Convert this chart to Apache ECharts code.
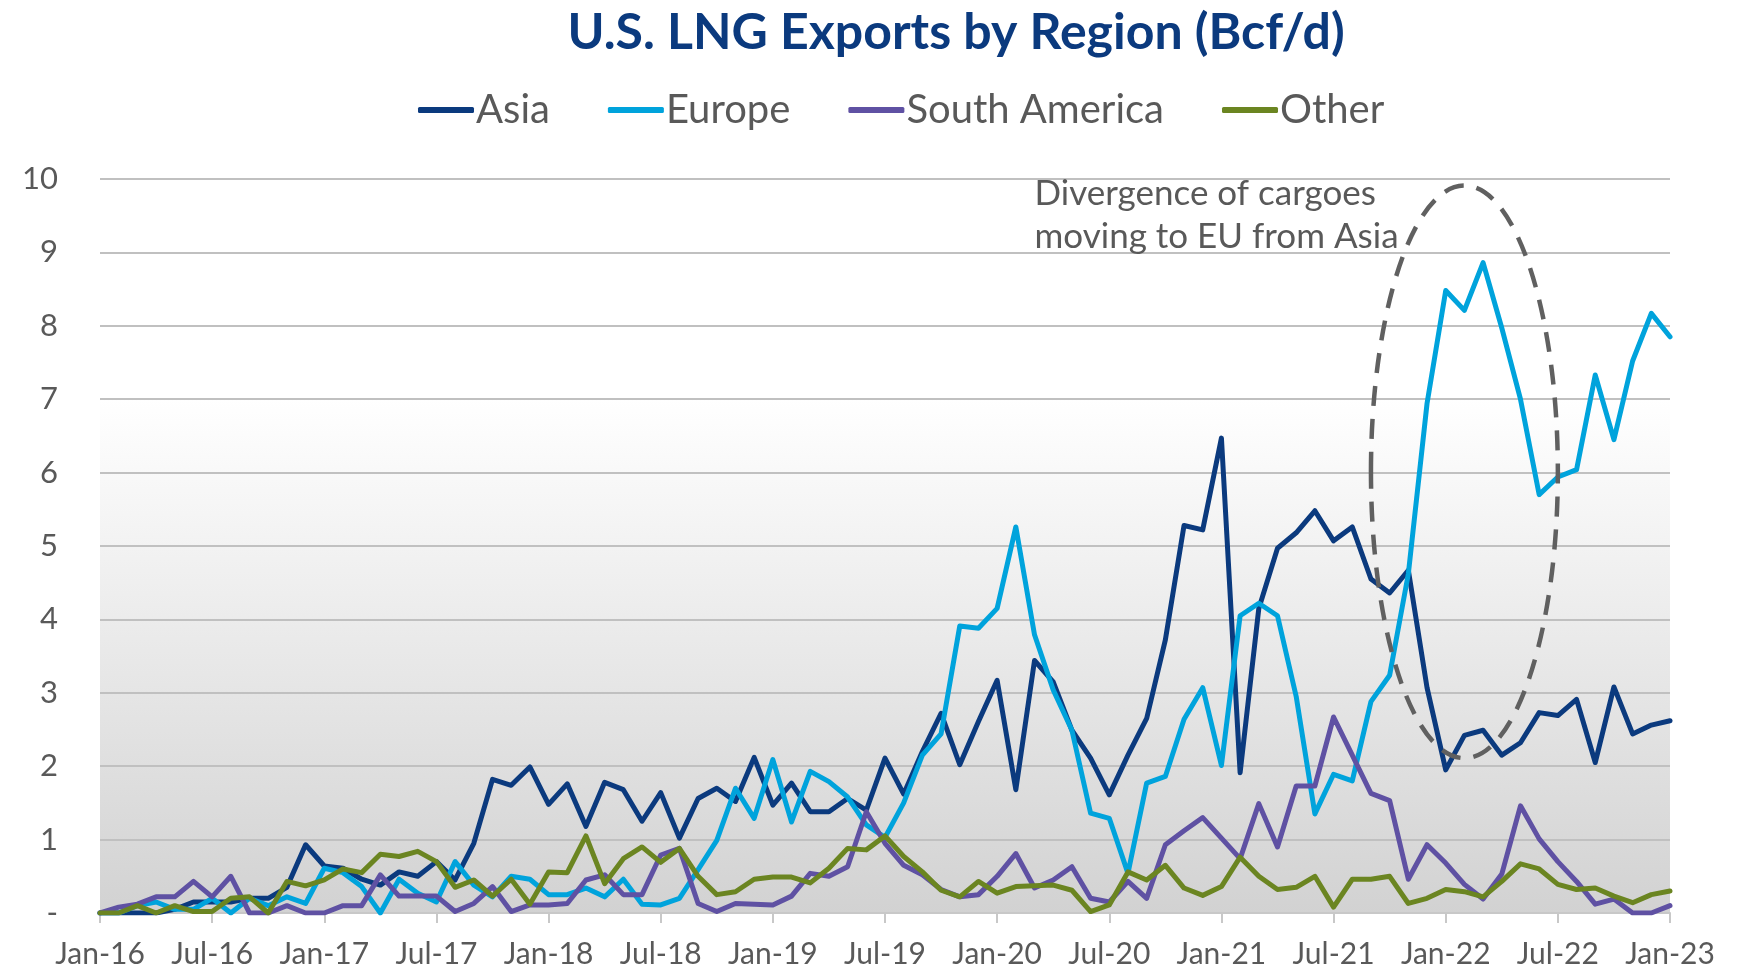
<!DOCTYPE html>
<html>
<head>
<meta charset="utf-8">
<script src="https://cdn.jsdelivr.net/npm/echarts@6/dist/echarts.min.js"></script>
<style>
html,body{margin:0;padding:0;background:#fff;}
#chart{width:1745px;height:970px;}
</style>
</head>
<body>
<div id="chart"></div>
<script>
// Month categories Jan-16 .. Jan-23
const monthNames = ['Jan','Feb','Mar','Apr','May','Jun','Jul','Aug','Sep','Oct','Nov','Dec'];
const categories = [];
for (let y = 16; y <= 23; y++) {
  for (let m = 0; m < 12; m++) {
    if (y === 23 && m > 0) break;
    categories.push(monthNames[m] + '-' + y);
  }
}

const asia = [0,0,0,0,0.05,0.15,0.15,0.15,0.2,0.2,0.35,0.93,0.64,0.61,0.46,0.38,0.56,0.5,0.7,0.45,
  0.95,1.82,1.74,1.99,1.48,1.76,1.18,1.78,1.68,1.25,1.64,1.02,1.56,1.7,1.52,2.12,1.47,1.77,1.38,1.38,
  1.56,1.4,2.11,1.62,2.2,2.72,2.02,2.61,3.17,1.68,3.44,3.15,2.49,2.11,1.61,2.15,2.65,3.72,5.28,5.22,
  6.47,1.91,4.15,4.97,5.18,5.48,5.07,5.26,4.55,4.36,4.67,3.07,1.95,2.42,2.49,2.15,2.32,2.73,2.69,2.91,
  2.05,3.08,2.44,2.56,2.62];

const europe = [0,0,0.1,0.15,0.05,0.05,0.2,0,0.2,0.1,0.22,0.13,0.61,0.55,0.36,0,0.46,0.27,0.15,0.7,
  0.38,0.22,0.5,0.46,0.25,0.25,0.34,0.22,0.46,0.12,0.11,0.2,0.59,0.99,1.7,1.29,2.09,1.24,1.93,1.79,
  1.58,1.2,1.03,1.5,2.15,2.44,3.91,3.88,4.15,5.26,3.79,3.04,2.49,1.36,1.29,0.54,1.77,1.86,2.64,3.07,
  2.01,4.05,4.22,4.05,2.95,1.35,1.89,1.8,2.88,3.24,4.62,6.94,8.48,8.21,8.86,7.97,7.0,5.7,5.94,6.04,
  7.33,6.45,7.52,8.17,7.85];

const southAmerica = [0,0.08,0.12,0.22,0.22,0.43,0.22,0.5,0,0,0.1,0,0,0.1,0.1,0.52,0.23,0.23,0.23,0.02,
  0.13,0.36,0.02,0.11,0.11,0.13,0.45,0.52,0.25,0.25,0.79,0.88,0.13,0.02,0.13,0.12,0.11,0.23,0.54,0.5,
  0.63,1.38,0.95,0.65,0.52,0.32,0.22,0.25,0.5,0.81,0.34,0.45,0.63,0.2,0.15,0.43,0.2,0.93,1.12,1.3,
  1.02,0.74,1.49,0.9,1.73,1.73,2.67,2.15,1.63,1.53,0.46,0.93,0.68,0.39,0.19,0.53,1.46,1.01,0.7,0.43,
  0.12,0.19,0,0,0.1];

const other = [0,0,0.1,0,0.1,0.02,0.02,0.2,0.22,0,0.43,0.37,0.45,0.6,0.55,0.8,0.77,0.84,0.7,0.35,
  0.45,0.23,0.46,0.12,0.56,0.55,1.05,0.4,0.74,0.9,0.69,0.88,0.5,0.25,0.29,0.46,0.49,0.49,0.41,0.61,
  0.88,0.86,1.05,0.77,0.56,0.31,0.22,0.43,0.27,0.36,0.37,0.38,0.31,0.02,0.11,0.56,0.45,0.65,0.34,0.24,
  0.36,0.76,0.5,0.32,0.35,0.5,0.08,0.46,0.46,0.5,0.13,0.2,0.32,0.29,0.22,0.43,0.67,0.6,0.39,0.32,
  0.34,0.23,0.14,0.25,0.3];

const yTicks = [0,1,2,3,4,5,6,7,8,9,10];
const annotationText = 'Divergence of cargoes\nmoving to EU from Asia';

const FONT = 'Lato';
const GREY = '#595959';
const colors = { asia:'#0b3a7e', europe:'#00a3dc', sa:'#5f51a3', other:'#6b8521' };

const chart = echarts.init(document.getElementById('chart'), null, {renderer:'canvas'});

function lineSeries(name, data, color) {
  return {
    name, type:'line', data, symbol:'none', smooth:false,
    lineStyle:{ color, width:5, join:'round', cap:'round' },
    itemStyle:{ color },
    z: 3
  };
}

const option = {
  animation:false,
  backgroundColor:'#ffffff',
  textStyle:{ fontFamily: FONT },
  title:{
    text:'U.S. LNG Exports by Region (Bcf/d)',
    left: 951, top: 3, textAlign:'center',
    textStyle:{ fontFamily: FONT, fontWeight:'bold', fontSize:50, color:'#0b3a7e' }
  },
  legend:{
    top: 85, left: 413,
    itemWidth:56, itemHeight:6, itemGap:58, icon:'roundRect',
    textStyle:{ fontFamily: FONT, fontSize:40, color: GREY, padding:[0,0,0,-3] },
    data:['Asia','Europe','South America','Other']
  },
  grid:{
    left:100, right:75, top:179, bottom:57, show:true, borderWidth:0,
    backgroundColor: new echarts.graphic.LinearGradient(0,0,0,1,[
      {offset:0, color:'#ffffff'},
      {offset:0.3, color:'#ffffff'},
      {offset:1, color:'#d2d2d2'}
    ])
  },
  xAxis:{
    type:'category', data:categories, boundaryGap:false,
    axisLine:{ show:true, lineStyle:{ color:'#c8c8c8', width:2 } },
    axisTick:{ show:true, interval:5, length:10, lineStyle:{ color:'#c8c8c8', width:2 } },
    axisLabel:{ interval:5, color:GREY, fontSize:30, fontFamily:FONT, margin:26 },
    splitLine:{ show:false }
  },
  yAxis:{
    type:'value', min:yTicks[0], max:yTicks[yTicks.length-1], interval:1,
    axisLine:{ show:false }, axisTick:{ show:false },
    axisLabel:{ color:GREY, fontSize:31, fontFamily:FONT, margin:42,
      formatter: v => v === 0 ? '-' : String(v) },
    splitLine:{ lineStyle:{ color:'#c0c0c0', width:2 } }
  },
  series:[
    lineSeries('Asia', asia, colors.asia),
    lineSeries('Europe', europe, colors.europe),
    lineSeries('South America', southAmerica, colors.sa),
    lineSeries('Other', other, colors.other)
  ]
};
chart.setOption(option);

// annotation placed via data coordinates
function px(i, v){ return chart.convertToPixel({gridIndex:0}, [i, v]); }
const c = px(73.35, 6.01);
const rxPt = px(73.35 + 4.2, 6.01);
const ryPt = px(73.35, 6.01 + 3.9);
const textPt = px(50.0, 9.5);
chart.setOption({
  graphic:[
    {
      type:'ellipse', x:c[0], y:c[1], z:10,
      shape:{ cx:0, cy:0, rx: rxPt[0]-c[0], ry: c[1]-ryPt[1] },
      style:{ fill:'none', stroke:'#606060', lineWidth:4.5, lineDash:[20,13] }
    },
    {
      type:'text', x:textPt[0], y:textPt[1], z:10,
      style:{ text: annotationText, font: '35px ' + FONT, fill: GREY,
        verticalAlign:'middle', align:'left', lineHeight:43 }
    }
  ]
});
</script>
</body>
</html>
